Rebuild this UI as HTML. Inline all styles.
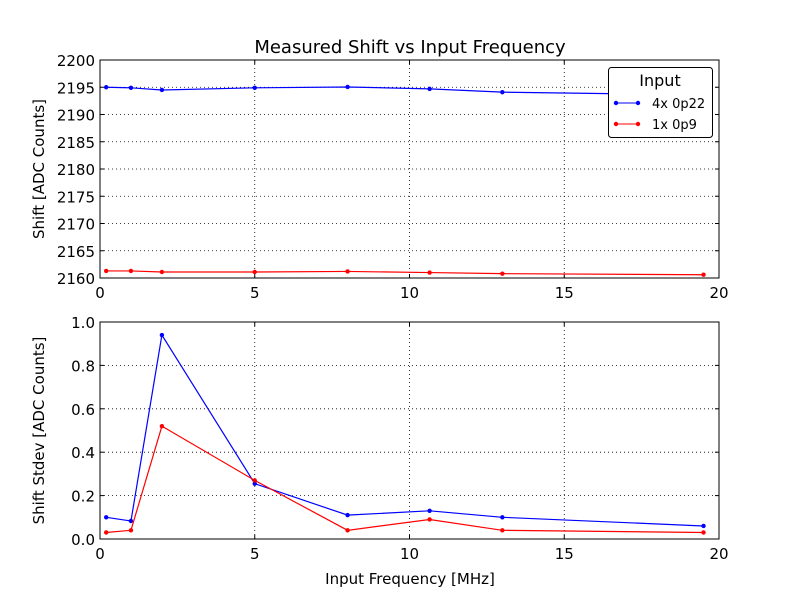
<!DOCTYPE html>
<html><head><meta charset="utf-8"><style>
body{margin:0;background:#fff;}
svg text{font-family:"DejaVu Sans","Liberation Sans",sans-serif;fill:#000;}
</style></head><body>
<svg id="c" width="800" height="600" viewBox="0 0 800 600"></svg>
<script>
const freqs=[0.2,1,2,5,8,10.65,13,19.5];
const topBlue=[2195.0,2194.9,2194.5,2194.9,2195.05,2194.7,2194.1,2193.6];
const topRed=[2161.3,2161.3,2161.1,2161.1,2161.2,2161.0,2160.8,2160.6];
const botBlue=[0.10,0.083,0.94,0.255,0.11,0.13,0.10,0.06];
const botRed=[0.03,0.04,0.52,0.27,0.04,0.09,0.04,0.03];
const xTicks=[0,5,10,15,20];
const topTicks=[2160,2165,2170,2175,2180,2185,2190,2195,2200];
const botTicks=[0.0,0.2,0.4,0.6,0.8,1.0];
const NS='http://www.w3.org/2000/svg';
const svg=document.getElementById('c');
function el(t,a,p){const e=document.createElementNS(NS,t);for(const k in a)e.setAttribute(k,a[k]);(p||svg).appendChild(e);return e;}
const X0=100,X1=719;
const xs=v=>X0+(v/20)*(X1-X0);
function panel(name,yT,yB,ymin,ymax,ticks,fmt,series,ylabel){
  const ys=v=>yB-(v-ymin)/(ymax-ymin)*(yB-yT);
  const g=el('g',{});
  
  
  xTicks.forEach(t=>{const x=xs(t);
    if(t>0&&t<20){const l=el('line',{x1:x,x2:x,y1:yT,y2:yB,stroke:'#000','stroke-dasharray':'1,3','stroke-width':0.8},g);}
    el('line',{x1:x,x2:x,y1:yB,y2:yB-4,stroke:'#000'},g);el('line',{x1:x,x2:x,y1:yT,y2:yT+4,stroke:'#000'},g);
    const tx=el('text',{x:x,y:yB+20,'text-anchor':'middle','font-size':15},g);tx.textContent=t;
    });
  ticks.forEach(t=>{const y=ys(t);
    if(t>ymin&&t<ymax){const l=el('line',{x1:X0,x2:X1,y1:y,y2:y,stroke:'#000','stroke-dasharray':'1,3','stroke-width':0.8},g);}
    el('line',{x1:X0,x2:X0+4,y1:y,y2:y,stroke:'#000'},g);el('line',{x1:X1,x2:X1-4,y1:y,y2:y,stroke:'#000'},g);
    const tx=el('text',{x:X0-5,y:y+6,'text-anchor':'end','font-size':15},g);tx.textContent=fmt(t);
    });
  series.forEach(s=>{
    const pts=freqs.map((f,i)=>xs(f)+','+ys(s.v[i])).join(' ');
    const pl=el('polyline',{points:pts,fill:'none',stroke:s.c,'stroke-width':1.2},g);
    
    freqs.forEach((f,i)=>{const c=el('circle',{cx:xs(f),cy:ys(s.v[i]),r:2.2,fill:s.c},g);});
  });
  const r=el('rect',{x:X0,y:yT,width:X1-X0,height:yB-yT,fill:'none',stroke:'#000'},g);
  
  const yl=el('text',{x:0,y:0,'text-anchor':'middle','font-size':15,transform:`translate(44,${(yT+yB)/2}) rotate(-90)`},g);
  yl.textContent=ylabel;
  return ys;
}
panel('top-panel',60,278,2160,2200,topTicks,t=>t,[{v:topBlue,c:'#0000ff',n:'series-4x-0p22'},{v:topRed,c:'#ff0000',n:'series-1x-0p9'}],'Shift [ADC Counts]');
panel('bottom-panel',322,539,0,1,botTicks,t=>t.toFixed(1),[{v:botBlue,c:'#0000ff',n:'series-4x-0p22'},{v:botRed,c:'#ff0000',n:'series-1x-0p9'}],'Shift Stdev [ADC Counts]');
</script>
<svg width="800" height="600" style="position:absolute;left:0;top:0">
<text x="410" y="53" text-anchor="middle" font-size="18">Measured Shift vs Input Frequency</text>
<text x="410" y="584" text-anchor="middle" font-size="15">Input Frequency [MHz]</text>
<g>
<rect x="608.5" y="67.5" width="104" height="70" rx="3" fill="#fff" stroke="#000"/>
<text x="660" y="86" text-anchor="middle" font-size="16">Input</text>
<g><line x1="616" x2="638" y1="103" y2="103" stroke="#00f"/><circle cx="616" cy="103" r="2.2" fill="#00f"/><circle cx="638" cy="103" r="2.2" fill="#00f"/><text x="652" y="108" font-size="13">4x 0p22</text></g>
<g><line x1="616" x2="638" y1="124" y2="124" stroke="#f00"/><circle cx="616" cy="124" r="2.2" fill="#f00"/><circle cx="638" cy="124" r="2.2" fill="#f00"/><text x="652" y="129" font-size="13">1x 0p9</text></g>
</g>
</svg>
</body></html>
